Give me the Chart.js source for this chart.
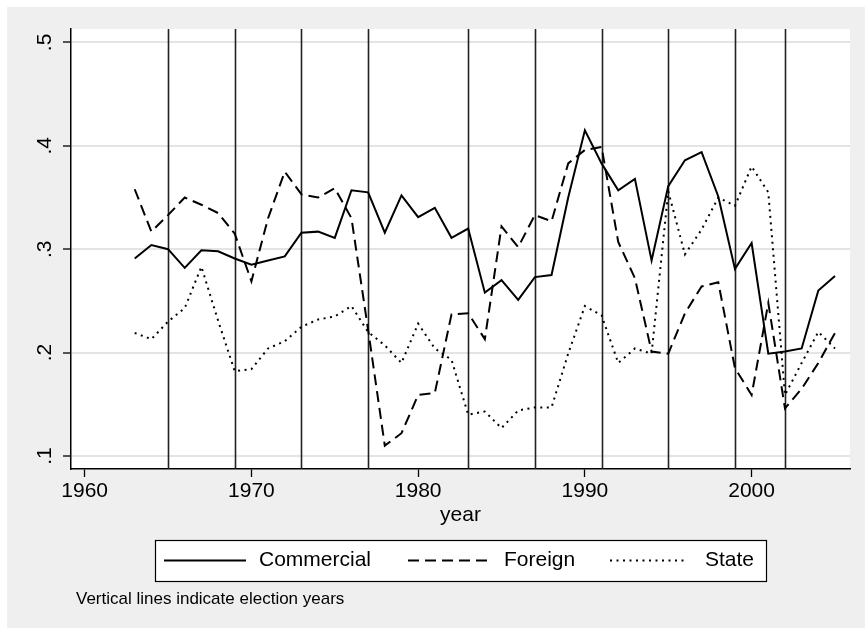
<!DOCTYPE html>
<html>
<head>
<meta charset="utf-8">
<script src="https://cdn.jsdelivr.net/npm/chart.js@4/dist/chart.umd.min.js"></script>
<style>
  html, body { margin: 0; padding: 0; background: #ffffff; }
  #wrap { position: relative; width: 865px; height: 629px; }
  canvas { display: block; }
</style>
</head>
<body>
<div id="wrap"><canvas id="c" width="865" height="629"></canvas></div>
<script>
// ---- data ----
const years = [1963,1964,1965,1966,1967,1968,1969,1970,1971,1972,
               1973,1974,1975,1976,1977,1978,1979,1980,1981,1982,
               1983,1984,1985,1986,1987,1988,1989,1990,1991,1992,
               1993,1994,1995,1996,1997,1998,1999,2000,2001,2002,
               2003,2004,2005];
const commercial = [0.291,0.304,0.300,0.282,0.299,0.298,0.291,0.285,0.289,0.293,
                    0.316,0.317,0.311,0.357,0.355,0.316,0.352,0.331,0.340,0.311,
                    0.320,0.258,0.270,0.251,0.273,0.275,0.350,0.415,0.383,0.357,
                    0.368,0.289,0.361,0.386,0.394,0.351,0.281,0.306,0.199,0.201,
                    0.204,0.260,0.274];
const foreign = [0.358,0.317,0.333,0.350,0.343,0.335,0.315,0.269,0.330,0.375,
                 0.353,0.350,0.359,0.330,0.222,0.110,0.122,0.159,0.161,0.237,
                 0.238,0.213,0.322,0.302,0.333,0.327,0.383,0.396,0.399,0.307,
                 0.272,0.201,0.199,0.238,0.264,0.268,0.185,0.159,0.248,0.146,
                 0.165,0.190,0.219];
const state = [0.219,0.213,0.230,0.243,0.283,0.231,0.182,0.184,0.204,0.211,
               0.225,0.232,0.235,0.245,0.220,0.207,0.190,0.228,0.204,0.193,
               0.140,0.143,0.127,0.144,0.147,0.147,0.199,0.245,0.236,0.190,
               0.204,0.199,0.356,0.295,0.319,0.350,0.342,0.380,0.355,0.159,
               0.190,0.220,0.204];
const electionYears = [1965,1969,1973,1977,1983,1987,1991,1995,1999,2002];
const seriesNames = ['Commercial','Foreign','State'];
const xTickValues = [1960,1970,1980,1990,2000];
const xTickLabels = ['1960','1970','1980','1990','2000'];
const yTickValues = [0.1,0.2,0.3,0.4,0.5];
const yTickLabels = ['.1','.2','.3','.4','.5'];
const xTitle = 'year';
const note = 'Vertical lines indicate election years';

// ---- styles ----
const FONT = '"Liberation Sans", Arial, Helvetica, sans-serif';
const dashes = [[], [11, 6], [2, 4.5]];

function pts(vals){ return years.map((y,i)=>({x:y, y:vals[i]})); }

const bgPlugin = {
  id: 'bg',
  beforeDraw(chart){
    const ctx = chart.ctx, a = chart.chartArea;
    ctx.save();
    ctx.fillStyle = '#ffffff';
    ctx.fillRect(0,0,chart.width,chart.height);
    ctx.fillStyle = '#efefef';
    ctx.fillRect(7,7,chart.width-7,chart.height-8);
    ctx.fillStyle = '#ffffff';
    ctx.fillRect(a.left,a.top,a.right-a.left,a.bottom-a.top);
    ctx.restore();
  }
};

const electionPlugin = {
  id: 'election',
  beforeDatasetsDraw(chart){
    const ctx = chart.ctx, a = chart.chartArea, xs = chart.scales.x;
    ctx.save();
    ctx.strokeStyle = '#222222';
    ctx.lineWidth = 1.6;
    electionYears.forEach(yr=>{
      const px = Math.round(xs.getPixelForValue(yr)) + 0.5;
      ctx.beginPath();
      ctx.moveTo(px, a.top);
      ctx.lineTo(px, a.bottom);
      ctx.stroke();
    });
    ctx.restore();
  }
};

const legendPlugin = {
  id: 'customLegend',
  afterDraw(chart){
    const ctx = chart.ctx;
    ctx.save();
    // box
    ctx.fillStyle = '#ffffff';
    ctx.fillRect(155, 540, 611, 41);
    ctx.strokeStyle = '#000000';
    ctx.lineWidth = 1.2;
    ctx.strokeRect(155.5, 540.5, 611, 41);
    const cy = 560.5;
    const samples = [[164,246,259],[408,491,504],[610,688,705]];
    chart.data.datasets.forEach((ds,i)=>{
      const s = samples[i];
      ctx.strokeStyle = '#000000';
      ctx.lineWidth = 2;
      ctx.setLineDash(ds.borderDash || []);
      ctx.beginPath();
      ctx.moveTo(s[0], cy);
      ctx.lineTo(s[1], cy);
      ctx.stroke();
      ctx.setLineDash([]);
      ctx.fillStyle = '#000000';
      ctx.font = '21px ' + FONT;
      ctx.textAlign = 'left';
      ctx.textBaseline = 'middle';
      ctx.fillText(ds.label, s[2], cy);
    });
    // note
    ctx.font = '17px ' + FONT;
    ctx.fillStyle = '#000000';
    ctx.textBaseline = 'middle';
    ctx.fillText(note, 76, 599);
    ctx.restore();
  }
};

const datasets = [commercial, foreign, state].map((vals,i)=>({
  label: seriesNames[i],
  data: pts(vals),
  borderColor: '#000000',
  backgroundColor: '#000000',
  borderWidth: 2,
  borderDash: dashes[i],
  pointRadius: 0,
  tension: 0,
  fill: false
}));

new Chart(document.getElementById('c'), {
  type: 'line',
  data: { datasets },
  options: {
    responsive: false,
    animation: false,
    devicePixelRatio: 1,
    layout: { padding: { top: 29, right: 15, bottom: 100, left: 0 } },
    plugins: { legend: { display: false }, tooltip: { enabled: false }, title: { display: false } },
    scales: {
      x: {
        type: 'linear',
        min: 1959.18,
        max: 2005.9,
        afterBuildTicks(scale){ scale.ticks = xTickValues.map(v=>({value:v})); },
        afterFit(scale){ scale.height = 60; },
        ticks: {
          includeBounds: false,
          color: '#000000',
          font: { family: FONT, size: 21, lineHeight: 1.2 },
          padding: 1.5,
          maxRotation: 0,
          minRotation: 0,
          callback(v, i){ return xTickLabels[i]; }
        },
        grid: { display: true, drawOnChartArea: false, tickLength: 8, tickColor: '#000000', tickWidth: 1.3 },
        border: { display: true, color: '#000000', width: 1.5 },
        title: { display: true, text: xTitle, color: '#000000', font: { family: FONT, size: 21, lineHeight: 1.2 }, padding: { top: 0, bottom: 1.4 } }
      },
      y: {
        type: 'linear',
        min: 0.0874,
        max: 0.513,
        afterBuildTicks(scale){ scale.ticks = yTickValues.map(v=>({value:v})); },
        afterFit(scale){ scale.width = 71; },
        ticks: {
          includeBounds: false,
          color: '#000000',
          font: { family: FONT, size: 21, lineHeight: 1.2 },
          padding: 9,
          minRotation: 90,
          maxRotation: 90,
          crossAlign: 'center',
          callback(v, i){ return yTickLabels[i]; }
        },
        grid: { display: true, drawOnChartArea: true, color: '#e4e4e4', lineWidth: 2, tickLength: 8, tickColor: '#000000', tickWidth: 1.3 },
        border: { display: true, color: '#000000', width: 1.5 }
      }
    }
  },
  plugins: [bgPlugin, electionPlugin, legendPlugin]
});
</script>
</body>
</html>
